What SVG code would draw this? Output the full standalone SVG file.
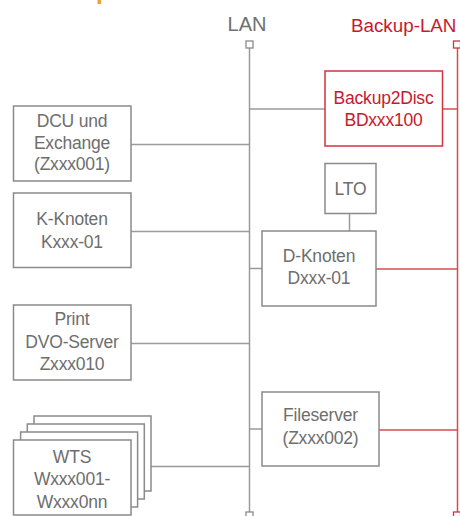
<svg xmlns="http://www.w3.org/2000/svg" width="460" height="516" viewBox="0 0 460 516">
<style>
.bx{fill:#fff;stroke:#8a8a8a;stroke-width:1.5}
.rbx{fill:#fff;stroke:#d0343f;stroke-width:1.5}
.t{font-family:"Liberation Sans",Arial,sans-serif;font-size:17.5px;fill:#6e6e6e;text-anchor:middle;letter-spacing:-0.2px}
.rt{font-family:"Liberation Sans",Arial,sans-serif;font-size:17.5px;fill:#c8192c;text-anchor:middle;letter-spacing:-0.2px}
.g{stroke:#9a9a9a;stroke-width:1.5;fill:none}
.r{stroke:#d84a53;stroke-width:1.5;fill:none}
.gsq{fill:#fff;stroke:#8a8a8a;stroke-width:1.3}
.rsq{fill:#fff;stroke:#d0343f;stroke-width:1.3}
</style>
<rect x="97.5" y="0" width="3.5" height="4" fill="#e9a13b"/>
<g id="labels">
<text x="247" y="31" style="font-family:'Liberation Sans',Arial,sans-serif;font-size:20px;fill:#707070;text-anchor:middle">LAN</text>
<text x="351" y="32" style="font-family:'Liberation Sans',Arial,sans-serif;font-size:18.8px;fill:#c8192c">Backup-LAN</text>
</g>
<g id="connectors">
<line class="g" x1="249.5" y1="48" x2="249.5" y2="512"/>
<rect class="gsq" x="246" y="41" width="7" height="7"/>
<rect class="gsq" x="246" y="512" width="7" height="7"/>
<line class="r" x1="457.5" y1="48" x2="457.5" y2="512"/>
<rect class="rsq" x="453.5" y="41" width="7" height="7"/>
<rect class="rsq" x="453.5" y="512" width="7" height="7"/>
<line class="g" x1="131" y1="144.5" x2="249.5" y2="144.5"/>
<line class="g" x1="131" y1="231.5" x2="249.5" y2="231.5"/>
<line class="g" x1="131" y1="343.5" x2="249.5" y2="343.5"/>
<line class="g" x1="151" y1="466.5" x2="249.5" y2="466.5"/>
<line class="g" x1="249.5" y1="109" x2="325" y2="109"/>
<line class="g" x1="249.5" y1="268.5" x2="262" y2="268.5"/>
<line class="g" x1="249.5" y1="429" x2="262" y2="429"/>
<line class="g" x1="349.5" y1="213.5" x2="349.5" y2="231"/>
<line class="r" x1="442.5" y1="109" x2="457.5" y2="109"/>
<line class="r" x1="376" y1="269" x2="457.5" y2="269"/>
<line class="r" x1="379" y1="430" x2="457.5" y2="430"/>
</g>
<g id="dcu">
<rect class="bx" x="13.5" y="106" width="117.5" height="75"/>
<text class="t" x="72" y="127">DCU und</text>
<text class="t" x="72" y="148.5">Exchange</text>
<text class="t" x="72" y="170">(Zxxx001)</text>
</g>
<g id="kknoten">
<rect class="bx" x="13.5" y="193" width="117.5" height="74.5"/>
<text class="t" x="72" y="225">K-Knoten</text>
<text class="t" x="72" y="248">Kxxx-01</text>
</g>
<g id="print">
<rect class="bx" x="13.5" y="305" width="117.5" height="75"/>
<text class="t" x="72" y="325">Print</text>
<text class="t" x="72" y="348">DVO-Server</text>
<text class="t" x="72" y="370">Zxxx010</text>
</g>
<g id="wts">
<rect class="bx" x="34" y="416" width="117" height="75"/>
<rect class="bx" x="27.3" y="424" width="117" height="75"/>
<rect class="bx" x="20.6" y="432" width="117" height="75"/>
<rect class="bx" x="13.5" y="440" width="117.5" height="75"/>
<text class="t" x="72" y="462.5">WTS</text>
<text class="t" x="72" y="485">Wxxx001-</text>
<text class="t" x="72" y="508">Wxxx0nn</text>
</g>
<g id="backup2disc">
<rect class="rbx" x="325" y="71" width="117.5" height="75"/>
<text class="rt" x="383.5" y="103.5">Backup2Disc</text>
<text class="rt" x="383.5" y="126">BDxxx100</text>
</g>
<g id="lto">
<rect class="bx" x="325" y="163.5" width="51" height="50"/>
<text class="t" x="350.5" y="195">LTO</text>
</g>
<g id="dknoten">
<rect class="bx" x="262" y="231" width="114" height="75"/>
<text class="t" x="319" y="261.5">D-Knoten</text>
<text class="t" x="319" y="284">Dxxx-01</text>
</g>
<g id="fileserver">
<rect class="bx" x="262" y="392" width="117" height="74"/>
<text class="t" x="320.5" y="421">Fileserver</text>
<text class="t" x="320.5" y="443.5">(Zxxx002)</text>
</g>
</svg>
